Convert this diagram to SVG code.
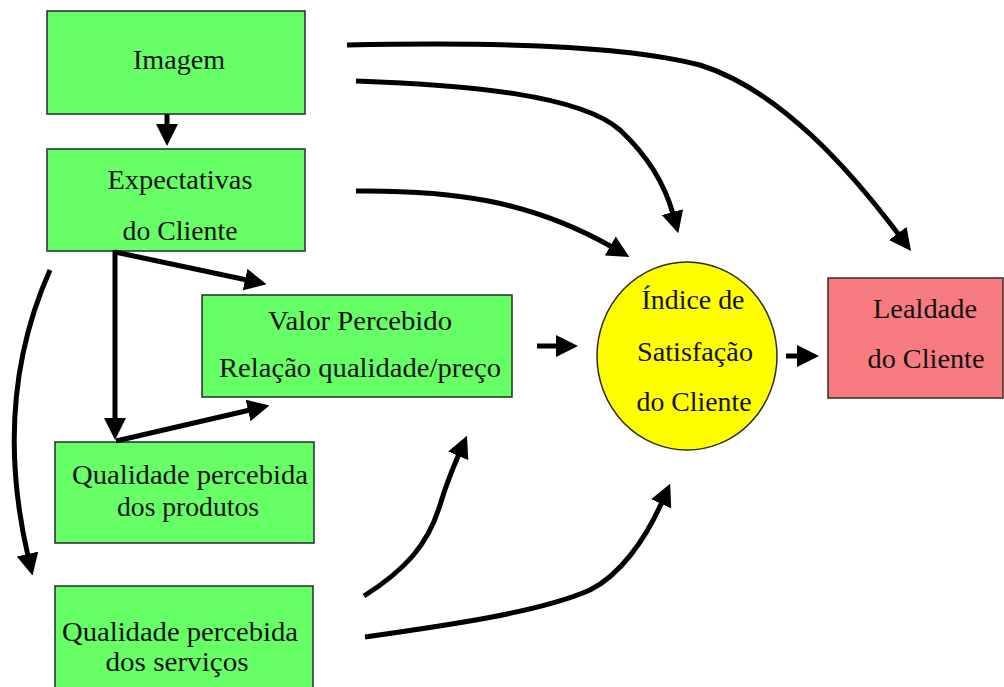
<svg xmlns="http://www.w3.org/2000/svg" width="1004" height="687" viewBox="0 0 1004 687">
  <style>
    .box { fill: #66ff66; stroke: #2a2a2a; stroke-width: 1.5; }
    .pink { fill: #f77b80; stroke: #3a2a2a; stroke-width: 1.5; }
    .circ { fill: #ffff00; stroke: #2a2a2a; stroke-width: 1.5; }
    .t { font-family: "Liberation Serif", "Times New Roman", serif; font-size: 28px; fill: #111; text-anchor: middle; }
    .c { fill: none; stroke: #000; stroke-width: 5; stroke-linecap: butt; stroke-linejoin: round; }
  </style>
  <defs>
    <marker id="ah" viewBox="0 0 22 22" refX="2" refY="11" markerWidth="22" markerHeight="22" markerUnits="userSpaceOnUse" orient="auto">
      <path d="M0,0 L22,11 L0,22 z" fill="#000"/>
    </marker>
  </defs>
  <rect width="1004" height="687" fill="#fff"/>

  <g id="imagem">
    <rect class="box" x="47" y="11" width="258" height="103"/>
    <text class="t" x="179" y="69" textLength="92" lengthAdjust="spacingAndGlyphs">Imagem</text>
  </g>
  <g id="expectativas">
    <rect class="box" x="47" y="149" width="258" height="102"/>
    <text class="t" x="180" y="189" textLength="145" lengthAdjust="spacingAndGlyphs">Expectativas</text>
    <text class="t" x="180" y="240" textLength="115" lengthAdjust="spacingAndGlyphs">do Cliente</text>
  </g>
  <g id="valor">
    <rect class="box" x="202" y="295" width="310" height="102"/>
    <text class="t" x="360" y="330" textLength="184" lengthAdjust="spacingAndGlyphs">Valor Percebido</text>
    <text class="t" x="360" y="377" textLength="282" lengthAdjust="spacingAndGlyphs">Relação qualidade/preço</text>
  </g>
  <g id="produtos">
    <rect class="box" x="55" y="442" width="259" height="101"/>
    <text class="t" x="190" y="484" textLength="236" lengthAdjust="spacingAndGlyphs">Qualidade percebida</text>
    <text class="t" x="188" y="516" textLength="142" lengthAdjust="spacingAndGlyphs">dos produtos</text>
  </g>
  <g id="servicos">
    <rect class="box" x="55" y="586" width="258" height="120"/>
    <text class="t" x="180" y="641" textLength="236" lengthAdjust="spacingAndGlyphs">Qualidade percebida</text>
    <text class="t" x="177" y="671" textLength="143" lengthAdjust="spacingAndGlyphs">dos serviços</text>
  </g>
  <g id="indice">
    <ellipse class="circ" cx="687" cy="356" rx="90" ry="94"/>
    <text class="t" x="693" y="309" textLength="103" lengthAdjust="spacingAndGlyphs">Índice de</text>
    <text class="t" x="695" y="361" textLength="116" lengthAdjust="spacingAndGlyphs">Satisfação</text>
    <text class="t" x="694" y="411" textLength="115" lengthAdjust="spacingAndGlyphs">do Cliente</text>
  </g>
  <g id="lealdade">
    <rect class="pink" x="828" y="278" width="175" height="120"/>
    <text class="t" x="925" y="318" textLength="104" lengthAdjust="spacingAndGlyphs">Lealdade</text>
    <text class="t" x="926" y="368" textLength="117" lengthAdjust="spacingAndGlyphs">do Cliente</text>
  </g>

  <g id="connectors">
    <path class="c" d="M167,114 V126" marker-end="url(#ah)"/>
    <path class="c" d="M115,252 L247,280" marker-end="url(#ah)"/>
    <path class="c" d="M115,250 V420" marker-end="url(#ah)"/>
    <path class="c" d="M116,441 L250,410" marker-end="url(#ah)"/>
    <path class="c" d="M50,270 Q-8,400 28,556" marker-end="url(#ah)"/>
    <path class="c" d="M347,45 C480,42 620,44 700,65 C780,90 850,170 899,235" marker-end="url(#ah)"/>
    <path class="c" d="M356,81 C470,85 580,95 620,130 C650,158 665,185 673,214" marker-end="url(#ah)"/>
    <path class="c" d="M356,191 C450,190 530,200 612,247" marker-end="url(#ah)"/>
    <path class="c" d="M364,596 C405,570 428,545 440,505 C447,482 452,470 459,454" marker-end="url(#ah)"/>
    <path class="c" d="M365,637 C450,625 540,612 590,590 C620,575 645,540 662,502" marker-end="url(#ah)"/>
    <path class="c" d="M537,346 H558" marker-end="url(#ah)"/>
    <path class="c" d="M786,356 H799" marker-end="url(#ah)"/>
  </g>
</svg>
